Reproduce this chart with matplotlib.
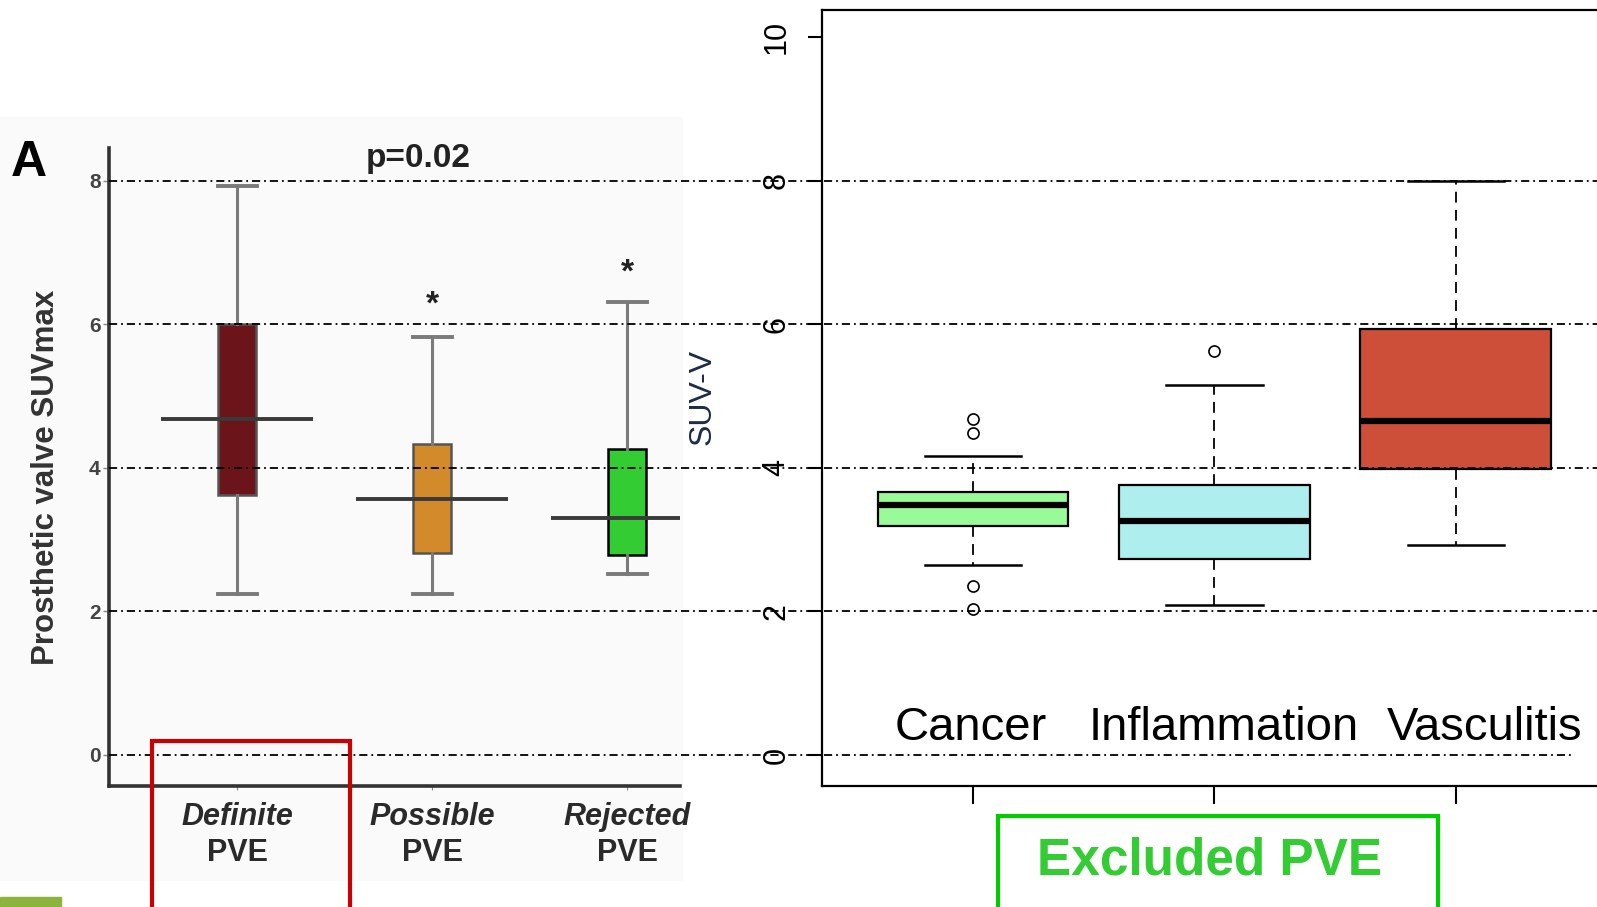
import matplotlib
matplotlib.use('Agg')
import matplotlib.pyplot as plt
from matplotlib import font_manager
from matplotlib.patches import Rectangle

# ---- Data ------------------------------------------------------------
left_groups = ['Definite', 'Possible', 'Rejected']
left_lo = [2.24, 2.24, 2.52]
left_q1 = [3.62, 2.81, 2.78]
left_med = [4.68, 3.56, 3.30]
left_q3 = [6.00, 4.33, 4.26]
left_hi = [7.93, 5.82, 6.31]
left_colors = ['#6b1419', '#d38a2b', '#33cc33']
star_pos = [2, 3]
star_vals = [6.26, 6.71]

right_groups = ['Cancer', 'Inflammation', 'Vasculitis']
right_lo = [2.64, 2.09, 2.93]
right_q1 = [3.19, 2.73, 3.99]
right_med = [3.48, 3.26, 4.65]
right_q3 = [3.66, 3.76, 5.94]
right_hi = [4.16, 5.16, 8.00]
right_fliers = [[4.68, 4.49, 2.35, 2.04], [5.63], []]
right_colors = ['#98fb98', '#afeeee', '#cd4f39']

grid_vals = [0, 2, 4, 6, 8]
right_ticks = [0, 2, 4, 6, 8, 10]

# ---- Layout (pixels of the 1597x907 canvas) --------------------------
W, H = 1597, 907
Y0, PPU = 755.0, 71.8          # pixel row of value 0, pixels per unit


def fx(px):
    return px / W


def fy(py):
    return 1 - py / H


def ylim_for(top, bottom):
    return ((Y0 - bottom) / PPU, (Y0 - top) / PPU)


names = {f.name for f in font_manager.fontManager.ttflist}
SANS = 'Liberation Sans'
NARROW = 'Liberation Sans Narrow' if 'Liberation Sans Narrow' in names else SANS
LABEL_SIZE = 25 if NARROW != SANS else 22
plt.rcParams['font.family'] = [SANS, 'DejaVu Sans']

fig = plt.figure(figsize=(W / 100, H / 100), dpi=100)

# faint grey backdrop of the left (pasted) panel
fig.add_artist(Rectangle((0, fy(880)), fx(682), fy(117) - fy(880),
                         transform=fig.transFigure, color='#fafafa', zorder=0))

# ---- Left panel ------------------------------------------------------
L_left, L_right, L_top, L_bot = 109, 680, 148, 786
axl = fig.add_axes([fx(L_left), fy(L_bot), fx(L_right - L_left), fy(L_top) - fy(L_bot)],
                   zorder=1)
axl.patch.set_alpha(0)
stats = [dict(whislo=lo, q1=a, med=m, q3=b, whishi=hi, fliers=[])
         for lo, a, m, b, hi in zip(left_lo, left_q1, left_med, left_q3, left_hi)]
bl = axl.bxp(stats, positions=[1, 2, 3], widths=0.195, capwidths=0.2,
             patch_artist=True, showfliers=False,
             boxprops=dict(edgecolor='#555555', linewidth=1.8),
             whiskerprops=dict(color='#7a7a7a', linewidth=2.2),
             capprops=dict(color='#7a7a7a', linewidth=2.8),
             medianprops=dict(linewidth=0))
for patch, c in zip(bl['boxes'], left_colors):
    patch.set_facecolor(c)
bl['boxes'][2].set_edgecolor('black')
axl.hlines(left_med, [p - 0.39 for p in (1, 2, 3)], [p + 0.39 for p in (1, 2, 3)],
           color='#3a3a3a', linewidth=2.8, zorder=5)
for p, v in zip(star_pos, star_vals):
    axl.text(p, v, '*', ha='center', va='center', fontsize=24, fontweight='bold',
             color='#222222')
axl.set_xlim(0.344, 3.27)
axl.set_ylim(*ylim_for(L_top, L_bot))
axl.set_yticks(grid_vals)
axl.set_yticklabels([str(v) for v in grid_vals])
axl.tick_params(axis='y', labelsize=15, length=4, width=1, color='#888888',
                labelcolor='#444444', pad=2)
for lab in axl.get_yticklabels():
    lab.set_fontweight('bold')
axl.set_xticks([1, 2, 3])
axl.set_xticklabels([])
axl.tick_params(axis='x', length=3, color='#888888')
for s in ['top', 'right']:
    axl.spines[s].set_visible(False)
for s in ['left', 'bottom']:
    axl.spines[s].set_color('#333333')
    axl.spines[s].set_linewidth(2.6)
for p, g in zip([1, 2, 3], left_groups):
    axl.text(p, -0.87, g, ha='center', va='center', fontsize=LABEL_SIZE, fontweight='bold',
             fontstyle='italic', family=NARROW, color='#2a2a2a', clip_on=False)
    axl.text(p, -1.37, 'PVE', ha='center', va='center', fontsize=LABEL_SIZE,
             fontweight='bold', family=NARROW, color='#2a2a2a', clip_on=False)

fig.text(fx(29), fy(163), 'A', fontsize=36, fontweight='bold', ha='center', va='center')
fig.text(fx(418), fy(158), 'p=0.02', fontsize=24, fontweight='bold', ha='center',
         va='center', color='#222222')
fig.text(fx(46), fy(477), 'Prosthetic valve SUVmax', fontsize=22.5, fontweight='bold',
         rotation=90, ha='center', va='center', color='#333333')

# ---- Right panel -----------------------------------------------------
R_left, R_right, R_top, R_bot = 822, 1620, 10, 786
axr = fig.add_axes([fx(R_left), fy(R_bot), fx(R_right - R_left), fy(R_top) - fy(R_bot)],
                   zorder=2)
stats = [dict(whislo=lo, q1=a, med=m, q3=b, whishi=hi, fliers=fl)
         for lo, a, m, b, hi, fl in zip(right_lo, right_q1, right_med, right_q3,
                                        right_hi, right_fliers)]
br = axr.bxp(stats, positions=[1, 2, 3], widths=0.79, capwidths=0.4,
             patch_artist=True, showfliers=True,
             boxprops=dict(edgecolor='black', linewidth=1.6),
             whiskerprops=dict(color='black', linewidth=1.3, linestyle=(0, (6, 4))),
             capprops=dict(color='black', linewidth=1.8),
             medianprops=dict(color='black', linewidth=4.5),
             flierprops=dict(marker='o', markerfacecolor='none', markeredgecolor='black',
                             markersize=8, markeredgewidth=1.2))
for patch, c in zip(br['boxes'], right_colors):
    patch.set_facecolor(c)
axr.set_xlim(0.375, 3.68)
axr.set_ylim(*ylim_for(R_top, R_bot))
axr.set_yticks(right_ticks)
axr.set_yticklabels([str(v) for v in right_ticks], rotation=90, va='center')
axr.tick_params(axis='y', labelsize=22, length=10, width=1.5, pad=12)
axr.set_xticks([1, 2, 3])
axr.set_xticklabels([])
axr.tick_params(axis='x', length=13, width=1.5)
for s in axr.spines.values():
    s.set_linewidth(1.6)
for x, g in zip([0.99, 2.04, 3.12], right_groups):
    axr.text(x, 0.21, g, ha='center', va='baseline', fontsize=34)
fig.text(fx(703), fy(397), 'SUV-V', fontsize=23, rotation=90, ha='center',
         va='center', color='#1c2b4a')

# ---- Dash-dot reference lines over both panels -----------------------
axg = fig.add_axes([0, 0, 1, 1], zorder=10)
axg.set_axis_off()
axg.patch.set_alpha(0)
axg.set_xlim(0, W)
axg.set_ylim(*ylim_for(0, H))
axg.hlines(grid_vals, 109, [1574] + [W] * (len(grid_vals) - 1), color='black',
           linewidth=1.3, linestyles=[(0, (4.5, 2.2, 1.0, 2.2))])

# ---- Highlight frames ------------------------------------------------
fig.add_artist(Rectangle((fx(152), fy(912)), fx(350 - 152), fy(741) - fy(912),
                         transform=fig.transFigure, fill=False, edgecolor='#cc0000',
                         linewidth=3, zorder=20))
fig.add_artist(Rectangle((fx(998), fy(912)), fx(1438 - 998), fy(816) - fy(912),
                         transform=fig.transFigure, fill=False, edgecolor='#00cc00',
                         linewidth=3, zorder=20))
fig.text(fx(1210), fy(861), 'Excluded PVE', fontsize=37, fontweight='bold',
         color='#33cc33', ha='center', va='center', zorder=21)
fig.add_artist(Rectangle((0, 0), fx(61), fy(897), transform=fig.transFigure,
                         color='#8cb43c', zorder=20))

fig.savefig('out.png', dpi=100)
